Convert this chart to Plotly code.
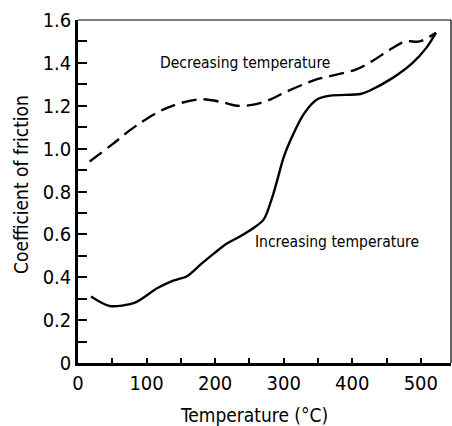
import plotly.graph_objects as go

# Decreasing temperature (dashed)
dec_temp = [17, 50, 84, 130, 178, 212, 232, 256, 281, 300, 329, 350, 377, 406, 430, 454, 478, 498, 522]
dec_cof = [0.94, 1.02, 1.105, 1.19, 1.23, 1.215, 1.20, 1.205, 1.23, 1.26, 1.30, 1.325, 1.345, 1.37, 1.41, 1.46, 1.50, 1.50, 1.54]

# Increasing temperature (solid)
inc_temp = [19, 35, 48, 82, 116, 140, 159, 179, 198, 216, 236, 256, 271, 285, 300, 310, 329, 349, 368, 412, 425, 459, 488, 508, 522]
inc_cof = [0.31, 0.28, 0.265, 0.28, 0.35, 0.385, 0.405, 0.46, 0.51, 0.555, 0.59, 0.63, 0.67, 0.79, 0.96, 1.04, 1.16, 1.23, 1.247, 1.255, 1.27, 1.33, 1.40, 1.47, 1.54]

x_ticks = [0, 100, 200, 300, 400, 500]
y_ticks = [0, 0.2, 0.4, 0.6, 0.8, 1.0, 1.2, 1.4, 1.6]
y_ticklabels = ["0", "0.2", "0.4", "0.6", "0.8", "1.0", "1.2", "1.4", "1.6"]

FONT = "DejaVu Sans Condensed, Liberation Sans Narrow, Arial Narrow, sans-serif"

fig = go.Figure()
fig.add_trace(go.Scatter(x=dec_temp, y=dec_cof, mode="lines",
                         line=dict(color="black", width=2.4, dash="15px,7px", shape="spline", smoothing=1.0),
                         hoverinfo="skip"))
fig.add_trace(go.Scatter(x=inc_temp, y=inc_cof, mode="lines",
                         line=dict(color="black", width=2.4, shape="spline", smoothing=0.8),
                         hoverinfo="skip"))

fig.add_annotation(x=116, y=1.40, xref="x", yref="y", text="Decreasing temperature",
                   showarrow=False, xanchor="left", yanchor="middle",
                   font=dict(family=FONT, size=15.5, color="black"))
fig.add_annotation(x=255, y=0.563, xref="x", yref="y", text="Increasing temperature",
                   showarrow=False, xanchor="left", yanchor="middle",
                   font=dict(family=FONT, size=15.5, color="black"))

# axis titles
fig.add_annotation(x=254, y=415, xref="pixel" if False else "paper", yref="paper",
                   text="Temperature (°C)", showarrow=False,
                   font=dict(family=FONT, size=19, color="black"))
fig.layout.annotations[-1].update(x=(254 - 78) / 373, y=-(415 - 363) / 343,
                                  xanchor="center", yanchor="middle")
fig.add_annotation(x=-(78 - 21) / 373, y=(363 - 185) / 343, xref="paper", yref="paper",
                   text="Coefficient of friction", showarrow=False, textangle=-90,
                   xanchor="center", yanchor="middle",
                   font=dict(family=FONT, size=19, color="black"))

# thin top and right frame
fig.add_shape(type="line", xref="paper", yref="paper", x0=0, x1=1, y0=1, y1=1,
              line=dict(color="black", width=1.2))
fig.add_shape(type="line", xref="paper", yref="paper", x0=1, x1=1, y0=0, y1=1,
              line=dict(color="black", width=1.2))

fig.update_layout(
    width=452, height=426,
    margin=dict(l=78, r=1, t=20, b=63),
    paper_bgcolor="white", plot_bgcolor="white",
    showlegend=False,
    font=dict(family=FONT, color="black"),
    xaxis=dict(range=[0, 544], tickvals=x_ticks, ticks="inside", ticklen=5, tickwidth=1.5,
               tickcolor="black", showgrid=False, zeroline=False,
               showline=True, linewidth=2.5, linecolor="black",
               tickfont=dict(family=FONT, size=20, color="black"),
               minor=dict(dtick=50, tick0=0, ticks="inside", ticklen=5, tickwidth=1.5, tickcolor="black", showgrid=False)),
    yaxis=dict(range=[0, 1.6], tickvals=y_ticks, ticktext=y_ticklabels, ticks="inside", ticklen=9,
               tickwidth=1.5, tickcolor="black", showgrid=False, zeroline=False,
               showline=True, linewidth=2.5, linecolor="black",
               tickfont=dict(family=FONT, size=20, color="black"),
               minor=dict(dtick=0.1, tick0=0, ticks="inside", ticklen=9, tickwidth=1.5, tickcolor="black", showgrid=False)),
)

fig.write_html("out.html")
